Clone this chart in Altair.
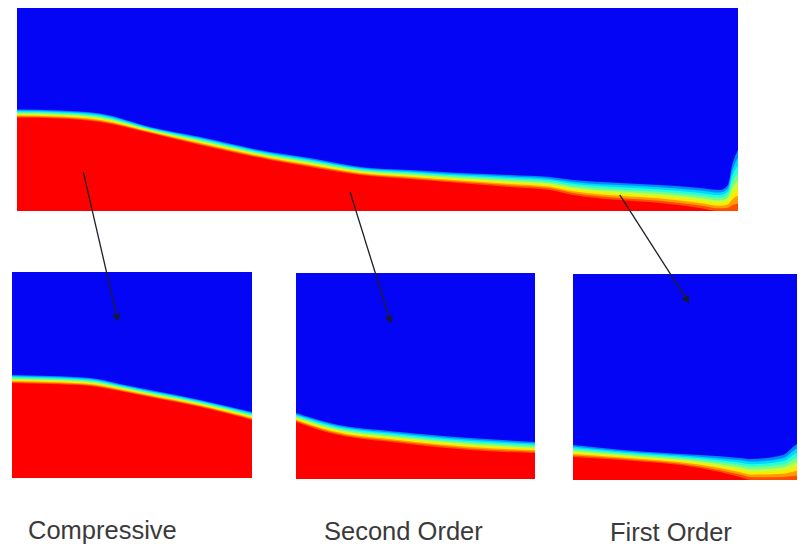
import altair as alt
import pandas as pd

# ---------------- data ----------------
# x: position along each panel, % of panel width
# blue: height (% of panel height) where the blue phase ends
# red:  height (% of panel height) where the red phase begins
top_x    = [0, 5.8, 11.5, 18.4, 25.4, 35.1, 40.6, 47.6, 54.5, 61.4, 68.4, 73.9, 77.1, 83.6, 89.2, 94.7, 97.5, 98.6, 99.2, 100]
top_blue = [49.3, 48.8, 47.3, 40.8, 35.9, 28.6, 25.7, 21.4, 19.9, 18.4, 17.5, 16.5, 15.0, 13.6, 12.6, 11.2, 10.2, 12.6, 22.3, 29.6]
top_red  = [45.4, 44.9, 43.2, 37.9, 32.0, 24.8, 21.4, 17.5, 15.5, 13.6, 11.7, 10.2, 7.8, 5.3, 3.9, 1.5, 0, 0, 0, 0]

comp_x    = [0, 15.8, 32.5, 45.0, 57.5, 78.3, 100]
comp_blue = [50.0, 49.5, 48.5, 45.6, 42.7, 37.9, 32.0]
comp_red  = [46.1, 45.6, 44.7, 42.2, 39.3, 34.5, 28.2]

second_x    = [0, 14.2, 43.5, 72.8, 100]
second_blue = [32.0, 27.2, 22.8, 19.9, 18.0]
second_red  = [27.7, 22.3, 17.5, 14.1, 12.6]

first_x    = [0, 20.6, 53.4, 70.2, 75.0, 88.2, 92.4, 97.5, 100]
first_blue = [17.0, 14.6, 12.1, 10.7, 10.2, 12.1, 16.0, 21.8, 28.0]
first_red  = [11.2, 9.7, 5.8, 1.5, 0, 0, 0, 0, 0]

labels       = ["Compressive", "Second Order", "First Order"]
label_panels = ["compressive", "second", "first"]

# arrows: start in the top panel, end in a zoomed panel (local % coordinates)
arrow_src_x = [9.2, 46.2, 83.6]
arrow_src_h = [18.9, 9.2, 7.8]
arrow_dst   = ["compressive", "second", "first"]
arrow_dst_x = [43.8, 39.3, 47.9]
arrow_dst_h = [77.7, 77.2, 87.4]

# ---------------- layout (pixels of the figure) ----------------
panels = pd.DataFrame({
    "panel": ["top", "compressive", "second", "first"],
    "px0": [17, 12, 296, 573],
    "px1": [738, 252, 535, 811],
    "py0": [5, 272, 273, 274],
    "py1": [211, 478, 479, 480],
})
label_dx = {"compressive": 16, "second": 28, "first": 37}
label_dy = 61

BLUE = "#0505f5"
RED = "#ff0000"
# jet-like colours of the diffuse interface, from the red side to the blue side
BAND_COLORS = ["#ff4d00", "#ff9c00", "#ffea00", "#c6ff39", "#76ff89", "#28ffd7", "#00d8ff", "#008aff"]

W, H = 789, 537
xs = alt.Scale(domain=[8, 8 + W], nice=False, zero=False)
ys = alt.Scale(domain=[8, 8 + H], nice=False, zero=False, reverse=True)

# ---------------- tables for the library ----------------
frames = []
for name, px, pb, pr in [("top", top_x, top_blue, top_red),
                         ("compressive", comp_x, comp_blue, comp_red),
                         ("second", second_x, second_blue, second_red),
                         ("first", first_x, first_blue, first_red)]:
    frames.append(pd.DataFrame({"panel": name, "xp": px, "hb": pb, "hr": pr}))
iface = pd.concat(frames, ignore_index=True).merge(panels, on="panel")

arrows = pd.DataFrame({
    "src": ["top"] * 3, "sx": arrow_src_x, "sh": arrow_src_h,
    "dst": arrow_dst, "dx": arrow_dst_x, "dh": arrow_dst_h,
})
arrows = arrows.merge(panels.add_prefix("s_"), left_on="src", right_on="s_panel")
arrows = arrows.merge(panels.add_prefix("d_"), left_on="dst", right_on="d_panel")

lab = pd.DataFrame({"panel": label_panels, "text": labels}).merge(panels, on="panel")
lab["ox"] = lab["panel"].map(label_dx)

X = alt.X("fx:Q", scale=xs, axis=None)

# ---------------- layers ----------------
bg = alt.Chart(panels).transform_calculate(bb="datum.py1").mark_rect(color=BLUE, clip=True).encode(
    x=alt.X("px0:Q", scale=xs, axis=None), x2="px1:Q",
    y=alt.Y("py0:Q", scale=ys, axis=None), y2="bb:Q",
)

base = alt.Chart(iface).transform_calculate(
    fx="datum.px0 + datum.xp / 100 * (datum.px1 - datum.px0)",
    fb="datum.py1",
)


def band(g, color):
    return base.transform_calculate(
        fy=f"datum.py1 - (datum.hr + (datum.hb - datum.hr) * {g}) / 100 * (datum.py1 - datum.py0)"
    ).mark_area(color=color, clip=True, interpolate="monotone").encode(
        x=X,
        y=alt.Y("fy:Q", scale=ys, axis=None, stack=None),
        y2="fb:Q",
        detail="panel:N",
    )


n = len(BAND_COLORS)
layers = [bg]
for k in range(n - 1, -1, -1):
    layers.append(band((k + 1) / n, BAND_COLORS[k]))
layers.append(band(0, RED))

arrow_base = alt.Chart(arrows).transform_calculate(
    ax0="datum.s_px0 + datum.sx / 100 * (datum.s_px1 - datum.s_px0)",
    ay0="datum.s_py1 - datum.sh / 100 * (datum.s_py1 - datum.s_py0)",
    ax1="datum.d_px0 + datum.dx / 100 * (datum.d_px1 - datum.d_px0)",
    ay1="datum.d_py1 - datum.dh / 100 * (datum.d_py1 - datum.d_py0)",
).transform_calculate(
    ang="atan2(datum.ax1 - datum.ax0, -(datum.ay1 - datum.ay0)) * 180 / PI",
)

arrow_lines = arrow_base.mark_rule(color="#1e1e2a", strokeWidth=1.3).encode(
    x=alt.X("ax0:Q", scale=xs, axis=None), x2="ax1:Q",
    y=alt.Y("ay0:Q", scale=ys, axis=None), y2="ay1:Q",
)
arrow_heads = arrow_base.mark_point(shape="triangle-up", filled=True, color="#141830",
                                    size=70, opacity=1).encode(
    x=alt.X("ax1:Q", scale=xs, axis=None),
    y=alt.Y("ay1:Q", scale=ys, axis=None),
    angle=alt.Angle("ang:Q", scale=None),
)

texts = alt.Chart(lab).transform_calculate(
    tx="datum.px0 + datum.ox", ty=f"datum.py1 + {label_dy}",
).mark_text(align="left", baseline="alphabetic", font="Liberation Sans",
            fontSize=25.5, color="#3a3a3a").encode(
    x=alt.X("tx:Q", scale=xs, axis=None),
    y=alt.Y("ty:Q", scale=ys, axis=None),
    text="text:N",
)

layers += [arrow_lines, arrow_heads, texts]

chart = alt.layer(*layers).properties(
    width=W, height=H, padding=0, autosize=alt.AutoSizeParams(type="none"),
    background="white",
).configure_view(stroke=None)

chart.save("out.html", embed_options={"renderer": "svg", "actions": False})
